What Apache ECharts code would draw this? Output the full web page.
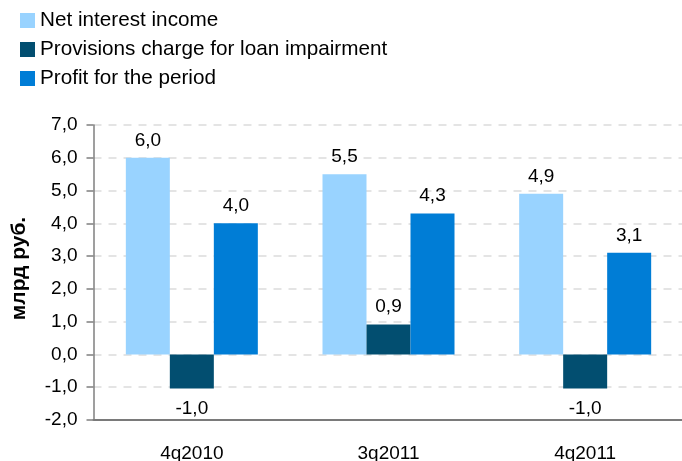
<!DOCTYPE html>
<html>
<head>
<meta charset="utf-8">
<script src="https://cdn.jsdelivr.net/npm/echarts@6/dist/echarts.min.js"></script>
<style>
html,body{margin:0;padding:0;background:#fff;}
#chart{width:682px;height:461px;}
</style>
</head>
<body>
<div id="chart"></div>
<script>
var categories = ['4q2010', '3q2011', '4q2011'];
var netInterest = [6.0, 5.5, 4.9];
var provisions = [-1.04, 0.91, -1.04];
var profit = [4.0, 4.3, 3.1];
var seriesNames = ['Net interest income', 'Provisions charge for loan impairment', 'Profit for the period'];
var colors = ['#99D3FF', '#024E70', '#007DD6'];

var FONT = 'Liberation Sans, Arial, sans-serif';
function fmt(v) { return v.toFixed(1).replace('.', ','); }

var chart = echarts.init(document.getElementById('chart'), null, {renderer: 'canvas'});

function mkSeries(name, data, color) {
  return {
    name: name,
    type: 'bar',
    xAxisIndex: 0,
    data: data.map(function (v) {
      return {
        value: v,
        label: {position: v < 0 ? 'bottom' : 'top', offset: v < 0 ? [0, 3] : [0, 0]}
      };
    }),
    barWidth: 44,
    barGap: '0%',
    itemStyle: {color: color},
    label: {
      show: true,
      distance: 8,
      fontFamily: FONT,
      fontSize: 19,
      color: '#000',
      formatter: function (p) { return fmt(p.value); }
    }
  };
}

chart.setOption({
  animation: false,
  color: colors,
  legend: {
    orient: 'vertical',
    left: 20,
    top: 10,
    padding: 0,
    itemWidth: 15,
    itemHeight: 15,
    itemGap: 8,
    icon: 'rect',
    textStyle: {fontFamily: FONT, fontSize: 20.7, color: '#000', lineHeight: 20},
    data: seriesNames
  },
  grid: {left: 93.5, right: -1.5, top: 125, bottom: 41, containLabel: false, outerBoundsMode: 'none'},
  xAxis: [
    {
      type: 'category',
      data: categories,
      position: 'bottom',
      axisLine: {show: false},
      axisTick: {show: false},
      axisLabel: {fontFamily: FONT, fontSize: 19, color: '#000', margin: 24},
      splitLine: {show: false}
    },
    {
      type: 'category',
      data: categories,
      position: 'bottom',
      axisLine: {show: true, onZero: true, lineStyle: {color: '#7a7a7a', width: 2}},
      axisTick: {show: false},
      axisLabel: {show: false},
      splitLine: {show: false}
    }
  ],
  yAxis: {
    type: 'value',
    min: -2,
    max: 7,
    interval: 1,
    name: 'млрд руб.',
    nameLocation: 'middle',
    nameRotate: 90,
    nameGap: 64,
    nameTextStyle: {fontFamily: FONT, fontSize: 21, fontWeight: 'bold', color: '#000', padding: [0, 0, 0, 8]},
    axisLine: {show: true, lineStyle: {color: '#7f7f7f', width: 1.5}},
    axisTick: {show: true, length: 7, lineStyle: {color: '#7f7f7f', width: 1.5}},
    axisLabel: {fontFamily: FONT, fontSize: 19, color: '#000', margin: 16, formatter: function (v) { return fmt(v); }},
    splitLine: {show: true, lineStyle: {color: '#dcdcdc', width: 1.5, type: [8, 7]}}
  },
  series: [
    mkSeries(seriesNames[0], netInterest, colors[0]),
    mkSeries(seriesNames[1], provisions, colors[1]),
    mkSeries(seriesNames[2], profit, colors[2])
  ]
});
</script>
</body>
</html>
